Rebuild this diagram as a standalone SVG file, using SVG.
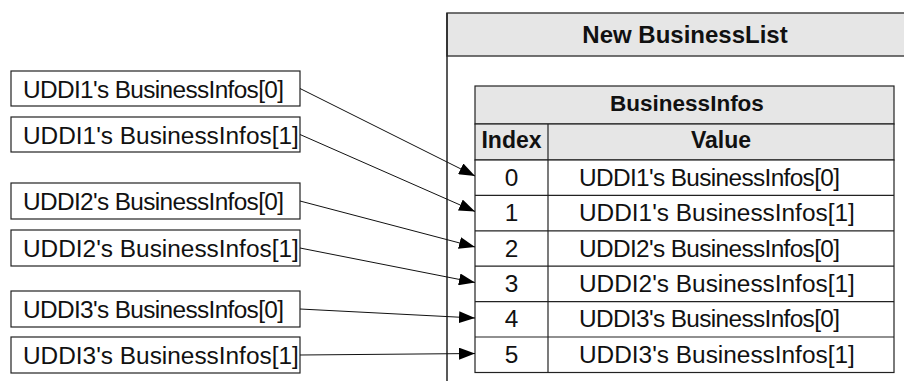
<svg xmlns="http://www.w3.org/2000/svg" width="904" height="381" viewBox="0 0 904 381">
  <style>
    .box { fill: #ffffff; stroke: #222222; stroke-width: 1.2; }
    .hdr { fill: #e6e6e6; stroke: #222222; stroke-width: 1.2; }
    .rule { fill: none; stroke: #222222; stroke-width: 1.2; }
    .txt { font-family: "Liberation Sans", Arial, sans-serif; font-size: 24.4px; fill: #111111; }
    .bold { font-family: "Liberation Sans", Arial, sans-serif; font-weight: bold; fill: #111111; text-anchor: middle; }
    .mid { text-anchor: middle; }
    .conn { fill: none; stroke: #111111; stroke-width: 1; }
  </style>
  <defs>
    <marker id="arrow" markerUnits="userSpaceOnUse" markerWidth="16" markerHeight="12" refX="16" refY="6" orient="auto">
      <path d="M0,0 L16,6 L0,12 Z" fill="#000000"/>
    </marker>
  </defs>
  <rect width="904" height="381" fill="#ffffff"/>

  <!-- container: New BusinessList -->
  <g id="new-businesslist">
    <rect x="447" y="13" width="470" height="43" class="hdr" style="stroke:#444444;stroke-width:1.5"/>
    <line x1="447" y1="13" x2="447" y2="381" class="rule" style="stroke-width:1.5"/>
    <text x="685" y="43" class="bold" font-size="24">New BusinessList</text>
  </g>

  <!-- table: BusinessInfos -->
  <g id="businessinfos">
    <rect x="475" y="86" width="419" height="38" class="hdr"/>
    <text x="687" y="111" class="bold" font-size="22.5">BusinessInfos</text>
    <rect x="475" y="124" width="419" height="36" class="hdr"/>
    <text x="511.5" y="148" class="bold" font-size="23">Index</text>
    <text x="721" y="148" class="bold" font-size="23">Value</text>
    <rect x="475" y="160" width="419" height="212.5" class="box"/>
    <line x1="548" y1="124" x2="548" y2="372.5" class="rule"/>
    <line x1="475" y1="195.4" x2="894" y2="195.4" class="rule"/>
    <line x1="475" y1="230.8" x2="894" y2="230.8" class="rule"/>
    <line x1="475" y1="266.2" x2="894" y2="266.2" class="rule"/>
    <line x1="475" y1="301.6" x2="894" y2="301.6" class="rule"/>
    <line x1="475" y1="337" x2="894" y2="337" class="rule"/>

    <g id="row-0">
      <text x="511.5" y="185.7" class="txt mid">0</text>
      <text x="579" y="185.7" class="txt" textLength="261" lengthAdjust="spacing">UDDI1's BusinessInfos[0]</text>
    </g>
    <g id="row-1">
      <text x="511.5" y="221.1" class="txt mid">1</text>
      <text x="579" y="221.1" class="txt">UDDI1's BusinessInfos[1]</text>
    </g>
    <g id="row-2">
      <text x="511.5" y="256.5" class="txt mid">2</text>
      <text x="579" y="256.5" class="txt" textLength="261" lengthAdjust="spacing">UDDI2's BusinessInfos[0]</text>
    </g>
    <g id="row-3">
      <text x="511.5" y="291.9" class="txt mid">3</text>
      <text x="579" y="291.9" class="txt">UDDI2's BusinessInfos[1]</text>
    </g>
    <g id="row-4">
      <text x="511.5" y="327.3" class="txt mid">4</text>
      <text x="579" y="327.3" class="txt" textLength="261" lengthAdjust="spacing">UDDI3's BusinessInfos[0]</text>
    </g>
    <g id="row-5">
      <text x="511.5" y="362.7" class="txt mid">5</text>
      <text x="579" y="362.7" class="txt">UDDI3's BusinessInfos[1]</text>
    </g>
  </g>

  <!-- source entries -->
  <g id="uddi1-0">
    <rect x="11" y="71" width="289" height="35" class="box"/>
    <text x="23" y="97.5" class="txt" textLength="261" lengthAdjust="spacing">UDDI1's BusinessInfos[0]</text>
  </g>
  <g id="uddi1-1">
    <rect x="11" y="117" width="289" height="35" class="box"/>
    <text x="23" y="143.5" class="txt">UDDI1's BusinessInfos[1]</text>
  </g>
  <g id="uddi2-0">
    <rect x="11" y="183" width="289" height="36" class="box"/>
    <text x="23" y="210" class="txt" textLength="261" lengthAdjust="spacing">UDDI2's BusinessInfos[0]</text>
  </g>
  <g id="uddi2-1">
    <rect x="11" y="230" width="289" height="36" class="box"/>
    <text x="23" y="257" class="txt">UDDI2's BusinessInfos[1]</text>
  </g>
  <g id="uddi3-0">
    <rect x="11" y="291" width="289" height="36" class="box"/>
    <text x="23" y="318" class="txt" textLength="261" lengthAdjust="spacing">UDDI3's BusinessInfos[0]</text>
  </g>
  <g id="uddi3-1">
    <rect x="11" y="337" width="289" height="36" class="box"/>
    <text x="23" y="364" class="txt">UDDI3's BusinessInfos[1]</text>
  </g>

  <!-- connectors -->
  <g id="connectors">
    <line x1="300" y1="88.5" x2="475" y2="176" class="conn" marker-end="url(#arrow)"/>
    <line x1="300" y1="134.5" x2="475" y2="211.5" class="conn" marker-end="url(#arrow)"/>
    <line x1="300" y1="201" x2="475" y2="247" class="conn" marker-end="url(#arrow)"/>
    <line x1="300" y1="248" x2="475" y2="282.5" class="conn" marker-end="url(#arrow)"/>
    <line x1="300" y1="309" x2="475" y2="318" class="conn" marker-end="url(#arrow)"/>
    <line x1="300" y1="355" x2="475" y2="353.5" class="conn" marker-end="url(#arrow)"/>
  </g>
</svg>
